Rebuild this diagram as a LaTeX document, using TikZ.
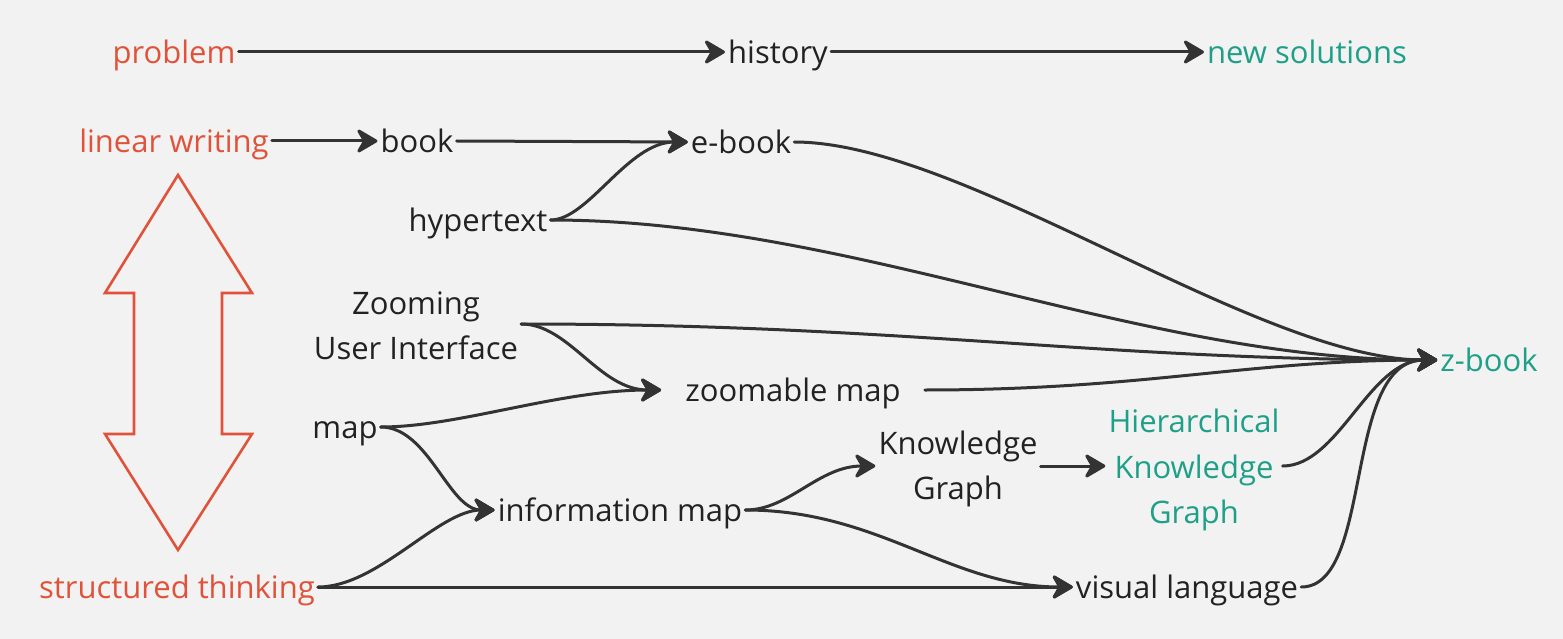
\documentclass[tikz,border=0pt]{standalone}
\usepackage{fontspec}
\setmainfont{Open Sans}
\usetikzlibrary{arrows.meta}
\definecolor{bgc}{HTML}{F2F2F2}
\definecolor{redc}{HTML}{E0533A}
\definecolor{greenc}{HTML}{1EA088}
\definecolor{txtc}{HTML}{222222}
\definecolor{linec}{HTML}{333333}
\begin{document}
\begin{tikzpicture}[x=1pt,y=-1pt,
  lbl/.style={font=\fontsize{31}{45.5}\selectfont, text=txtc, inner xsep=3pt, inner ysep=0pt, text height=23.5pt, text depth=0.5pt},
  mlbl/.style={font=\fontsize{31}{45.5}\selectfont, text=txtc, inner xsep=3pt, inner ysep=0pt, align=center},
  redt/.style={text=redc},
  greent/.style={text=greenc},
  conn/.style={draw=linec, line width=3pt, line cap=round},
  arr/.style={conn, -{Stealth[length=24pt,width=28pt,inset=8pt,round]}}
]
\fill[bgc] (0,0) rectangle (1563,639);
\useasboundingbox (0,0) rectangle (1563,639);

% nodes
\node[lbl,redt] (problem) at (174,52) {problem};
\node[lbl] (history) at (778,52) {history};
\node[lbl,greent] (newsol) at (1307,52) {new solutions};
\node[lbl,redt] (linear) at (174,141) {linear writing};
\node[lbl] (book) at (417,141) {book};
\node[lbl] (ebook) at (741,142) {e-book};
\node[lbl] (hyper) at (478,220) {hypertext};
\node[mlbl] (zui) at (416,326) {Zooming\\User Interface};
\node[lbl, inner xsep=24pt] (zmap) at (793,390) {zoomable map};
\node[lbl] (map) at (345,427) {map};
\node[lbl] (imap) at (620,510) {information map};
\node[mlbl] (kg) at (958,469) {Knowledge\\Graph};
\node[mlbl,greent] (hkg) at (1194,470) {Hierarchical\\Knowledge\\Graph};
\node[lbl,redt] (struct) at (177,587) {structured thinking};
\node[lbl] (vis) at (1187,587) {visual language};
\node[lbl,greent] (zbook) at (1489,360) {z-book};

% big double arrow
\draw[redc, line width=2.6pt, line join=miter]
  (178,175) -- (252,293) -- (222,293) -- (222,434) -- (252,434) -- (178,550)
  -- (105,434) -- (134,434) -- (134,293) -- (105,293) -- cycle;

% straight arrows
\draw[arr] (problem.east) -- (history.west);
\draw[arr] (history.east) -- (newsol.west);
\draw[arr] (linear.east) -- (book.west);
\draw[arr] (book.east) -- (ebook.west);
\draw[arr] ([yshift=3pt]kg.east) -- ([yshift=4pt]hkg.west);
\draw[arr] (struct.east) -- (vis.west);

% curved arrows
\draw[arr] (hyper.east) .. controls +(38,0) and +(-60,0) .. (ebook.west);
\draw[arr] (ebook.east) .. controls +(170,0) and +(-180,0) .. (zbook.west);
\draw[arr] (hyper.east) .. controls +(300,0) and +(-300,0) .. (zbook.west);
\draw[arr] ([yshift=2pt]zui.east) .. controls +(380,0) and +(-340,0) .. (zbook.west);
\draw[arr] ([yshift=2pt]zui.east) .. controls +(48,0) and +(-62,0) .. (zmap.west);
\draw[arr] (zmap.east) .. controls +(220,0) and +(-190,0) .. (zbook.west);
\draw[arr] (map.east) .. controls +(78,0) and +(-102,0) .. (zmap.west);
\draw[arr] (map.east) .. controls +(48,0) and +(-46,0) .. (imap.west);
\draw[arr] (struct.east) .. controls +(60,0) and +(-56,0) .. (imap.west);
\draw[arr] (imap.east) .. controls +(44,0) and +(-57,0) .. ([yshift=3pt]kg.west);
\draw[arr] (imap.east) .. controls +(134,0) and +(-122,0) .. (vis.west);
\draw[arr] ([yshift=4pt]hkg.east) .. controls +(56,0) and +(-68,0) .. (zbook.west);
\draw[arr] (vis.east) .. controls +(73,0) and +(-95,0) .. (zbook.west);
\end{tikzpicture}
\end{document}
